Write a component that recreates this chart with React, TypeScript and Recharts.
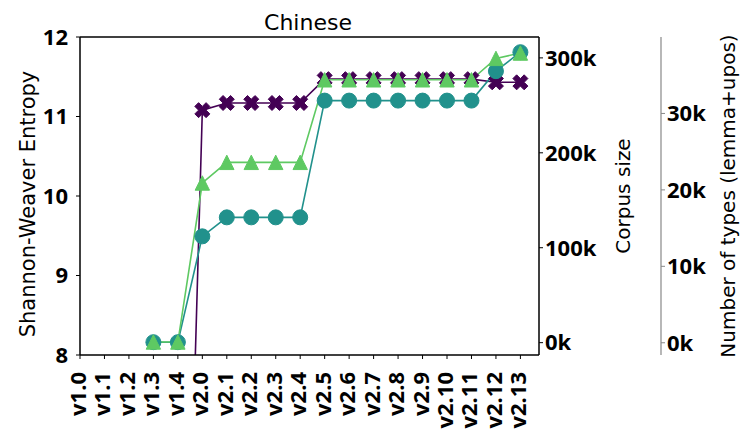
import React from "react";
import { LineChart, Line, XAxis, YAxis, ReferenceLine } from "recharts";

const versions = ["v1.0","v1.1","v1.2","v1.3","v1.4","v2.0","v2.1","v2.2","v2.3","v2.4","v2.5","v2.6","v2.7","v2.8","v2.9","v2.10","v2.11","v2.12","v2.13"];
const entropy = [null,null,null,0.3,0.3,11.08,11.17,11.17,11.17,11.17,11.47,11.47,11.47,11.47,11.47,11.47,11.47,11.43,11.43];
const corpusSize = [null,null,null,500,500,112000,132000,132000,132000,132000,255000,255000,255000,255000,255000,255000,255000,286000,306000];
const numTypes = [null,null,null,100,100,20900,23600,23600,23600,23600,34400,34400,34400,34400,34400,34400,34400,37200,37900];

const entropyTicks = [8, 9, 10, 11, 12];
const corpusTicks = [0, 100000, 200000, 300000];
const typesTicks = [0, 10000, 20000, 30000];

const PURPLE = "#440154";
const TEAL = "#21918c";
const GREEN = "#5ec962";

const data = versions.map((v, i) => ({
  idx: i,
  label: v,
  entropy: entropy[i],
  corpus: corpusSize[i],
  types: numTypes[i],
}));

const TICK_FONT = "'Open Sans', 'Liberation Sans', sans-serif";
const LABEL_FONT = "'DejaVu Sans', sans-serif";

const tickStyle = { fill: "#000", fontSize: 22, fontWeight: 700, fontFamily: TICK_FONT };

const XMarker = (props: any) => {
  const { cx, cy, payload, fill } = props;
  if (cx == null || cy == null || payload == null || payload.entropy == null) return <g key={props.index} />;
  const s = 15;
  const pts = [
    [-0.25, -0.5], [0, -0.25], [0.25, -0.5], [0.5, -0.25], [0.25, 0], [0.5, 0.25],
    [0.25, 0.5], [0, 0.25], [-0.25, 0.5], [-0.5, 0.25], [-0.25, 0], [-0.5, -0.25],
  ].map(([a, b]) => `${cx + a * s},${cy + b * s}`).join(" ");
  return <polygon key={props.index} points={pts} fill={PURPLE} stroke={PURPLE} strokeWidth={1} />;
};

const CircleMarker = (props: any) => {
  const { cx, cy, payload } = props;
  if (cx == null || cy == null || payload == null || payload.corpus == null) return <g key={props.index} />;
  return <circle key={props.index} cx={cx} cy={cy} r={7.5} fill={TEAL} stroke={TEAL} strokeWidth={1} />;
};

const TriMarker = (props: any) => {
  const { cx, cy, payload } = props;
  if (cx == null || cy == null || payload == null || payload.types == null) return <g key={props.index} />;
  const h = 7.2;
  const pts = `${cx},${cy - h} ${cx - h},${cy + h} ${cx + h},${cy + h}`;
  return <polygon key={props.index} points={pts} fill={GREEN} stroke={GREEN} strokeWidth={1} />;
};

const XTick = (props: any) => {
  const { x, y, payload } = props;
  return (
    <g transform={`translate(${x},${y})`}>
      <text
        transform="rotate(-90)"
        x={-13}
        y={0}
        dy={6}
        textAnchor="end"
        fill="#000"
        fontSize={22}
        fontWeight={700}
        fontFamily={TICK_FONT}
      >
        {versions[payload.value]}
      </text>
    </g>
  );
};

const AxisLabel = (props: any) => {
  const { viewBox, text, off, size, cyOff } = props;
  if (!viewBox) return null;
  const x = viewBox.x + off;
  const y = viewBox.y + viewBox.height / 2 + (cyOff || 0);
  return (
    <text
      transform={`translate(${x},${y}) rotate(-90)`}
      textAnchor="middle"
      fill="#000"
      fontSize={size}
      fontFamily={LABEL_FONT}
    >
      {text}
    </text>
  );
};

export default function App() {
  return (
    <div style={{ position: "absolute", left: 0, top: 0, width: 743, height: 440, background: "#fff" }}>
      <LineChart
        width={743}
        height={440}
        data={data}
        margin={{ top: 37, right: 0, bottom: 0, left: 0 }}
      >
        <XAxis
          dataKey="idx"
          type="number"
          domain={[0, 18.76]}
          allowDataOverflow
          ticks={versions.map((_, i) => i)}
          interval={0}
          height={85}
          tickSize={4}
          tickMargin={0}
          tick={<XTick />}
          axisLine={{ stroke: "#000", strokeWidth: 1.5 }}
          tickLine={{ stroke: "#000" }}
        />
        <YAxis
          yAxisId="ent"
          orientation="left"
          domain={[8, 12]}
          allowDataOverflow
          ticks={entropyTicks}
          width={80}
          tickSize={4}
          tickMargin={8}
          tick={tickStyle}
          axisLine={{ stroke: "#000", strokeWidth: 1.5 }}
          tickLine={{ stroke: "#000" }}
          label={<AxisLabel text="Shannon-Weaver Entropy" off={35} size={21} cyOff={8} />}
        />
        <YAxis
          yAxisId="corp"
          orientation="right"
          domain={[-13000, 322000]}
          allowDataOverflow
          ticks={corpusTicks}
          width={122}
          tickSize={4}
          tickMargin={2}
          tick={tickStyle}
          tickFormatter={(v: number) => `${Math.round(v / 1000)}k`}
          axisLine={{ stroke: "#000", strokeWidth: 1.5 }}
          tickLine={{ stroke: "#000" }}
          label={<AxisLabel text="Corpus size" off={91} size={20} cyOff={0} />}
        />
        <YAxis
          yAxisId="types"
          orientation="right"
          domain={[-1600, 40000]}
          allowDataOverflow
          ticks={typesTicks}
          width={82}
          tickSize={4}
          tickMargin={2}
          tick={tickStyle}
          tickFormatter={(v: number) => `${Math.round(v / 1000)}k`}
          axisLine={{ stroke: "#888", strokeWidth: 1.2 }}
          tickLine={{ stroke: "#888" }}
          label={<AxisLabel text="Number of types (lemma+upos)" off={74} size={20} cyOff={0} />}
        />
        <ReferenceLine yAxisId="ent" y={12} stroke="#000" strokeWidth={1.5} />
        <Line
          yAxisId="ent"
          dataKey="entropy"
          stroke={PURPLE}
          strokeWidth={1.6}
          dot={<XMarker />}
          activeDot={false}
          isAnimationActive={false}
          connectNulls={false}
        />
        <Line
          yAxisId="corp"
          dataKey="corpus"
          stroke={TEAL}
          strokeWidth={1.6}
          dot={<CircleMarker />}
          activeDot={false}
          isAnimationActive={false}
          connectNulls={false}
        />
        <Line
          yAxisId="types"
          dataKey="types"
          stroke={GREEN}
          strokeWidth={1.6}
          dot={<TriMarker />}
          activeDot={false}
          isAnimationActive={false}
          connectNulls={false}
        />
      </LineChart>
      <svg
        width={743}
        height={40}
        style={{ position: "absolute", left: 0, top: 0, pointerEvents: "none" }}
      >
        <text x={308} y={30} textAnchor="middle" fontSize={22} fill="#000" fontFamily={LABEL_FONT}>
          Chinese
        </text>
      </svg>
    </div>
  );
}
